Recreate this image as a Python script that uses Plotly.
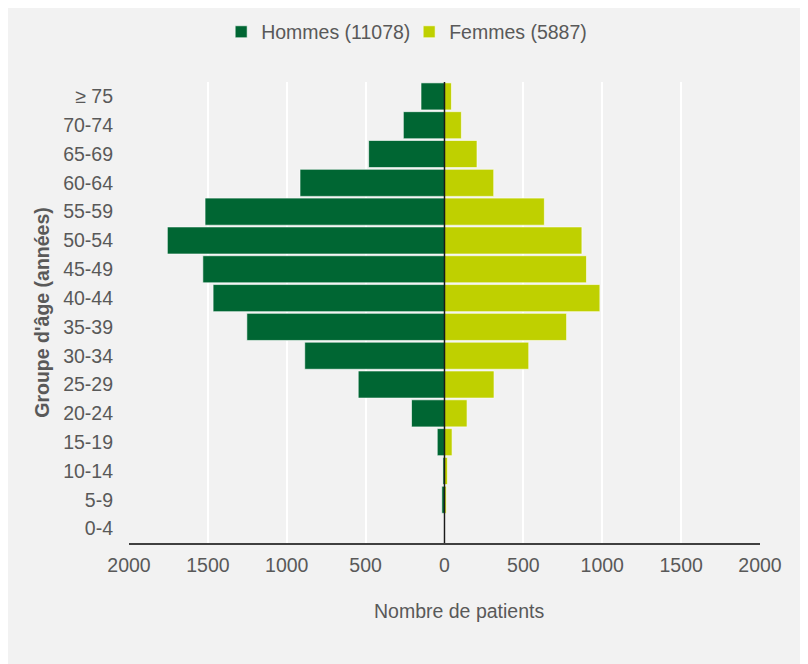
import plotly.graph_objects as go

# age groups, bottom to top
age_groups = ['0-4', '5-9', '10-14', '15-19', '20-24', '25-29', '30-34', '35-39',
              '40-44', '45-49', '50-54', '55-59', '60-64', '65-69', '70-74', '≥ 75']
men = [3, 17, 10, 46, 209, 547, 886, 1253, 1467, 1532, 1757, 1518, 916, 481, 261, 149]
women = [1, 11, 19, 48, 143, 314, 534, 774, 985, 900, 871, 633, 312, 206, 107, 44]

tick_vals = [-2000, -1500, -1000, -500, 0, 500, 1000, 1500, 2000]
tick_text = ['2000', '1500', '1000', '500', '0', '500', '1000', '1500', '2000']

grey_text = '#595959'
fsize = 19.5

fig = go.Figure()

fig.add_trace(go.Bar(
	name='Hommes (11078)',
	y=age_groups,
	x=[-v for v in men],
	orientation='h',
	marker=dict(color='#006633', line=dict(color='rgba(255,255,255,0.6)', width=1)),
))

fig.add_trace(go.Bar(
	name='Femmes (5887)',
	y=age_groups,
	x=women,
	orientation='h',
	marker=dict(color='#bfd000', line=dict(color='rgba(255,255,255,0.6)', width=1)),
))

fig.update_layout(
	barmode='relative',
	bargap=0.06,
	width=800,
	height=656,
	paper_bgcolor='#f2f2f2',
	plot_bgcolor='#f2f2f2',
	margin=dict(l=121, r=48, t=74, b=121),
	font=dict(family='Liberation Sans, Arial, sans-serif', size=fsize, color=grey_text),
	legend=dict(
		orientation='h',
		x=0.444,
		xanchor='center',
		y=0.993,
		yanchor='top',
		yref='container',
		font=dict(size=fsize, color=grey_text),
		itemwidth=30,
		entrywidth=143,
		traceorder='normal',
	),
	showlegend=True,
)

# zero line drawn on top of the bars
fig.add_shape(type='line', x0=0, x1=0, xref='x', y0=0, y1=1, yref='paper',
	line=dict(color='#1a1a1a', width=1.5), layer='above')

# x axis title (sits a little right of centre in the original)
fig.add_annotation(text='Nombre de patients', xref='paper', yref='paper',
	x=0.523, y=0, xanchor='center', yanchor='middle', yshift=-68,
	showarrow=False, font=dict(size=fsize, color=grey_text))

fig.update_xaxes(
	range=[-2000, 2000],
	tickvals=tick_vals,
	ticktext=tick_text,
	showgrid=True,
	gridcolor='#ffffff',
	gridwidth=2,
	zeroline=False,
	showline=True,
	linecolor='#404040',
	linewidth=2,
	ticks='',
	ticklabelstandoff=4,
	tickfont=dict(size=fsize, color=grey_text),
)

fig.update_yaxes(
	showgrid=False,
	ticks='',
	ticklabelstandoff=15,
	tickfont=dict(size=fsize, color=grey_text),
	title=dict(text="<b>Groupe d'âge (années)</b>", font=dict(size=fsize, color=grey_text), standoff=8),
)

fig.write_html("out.html")
